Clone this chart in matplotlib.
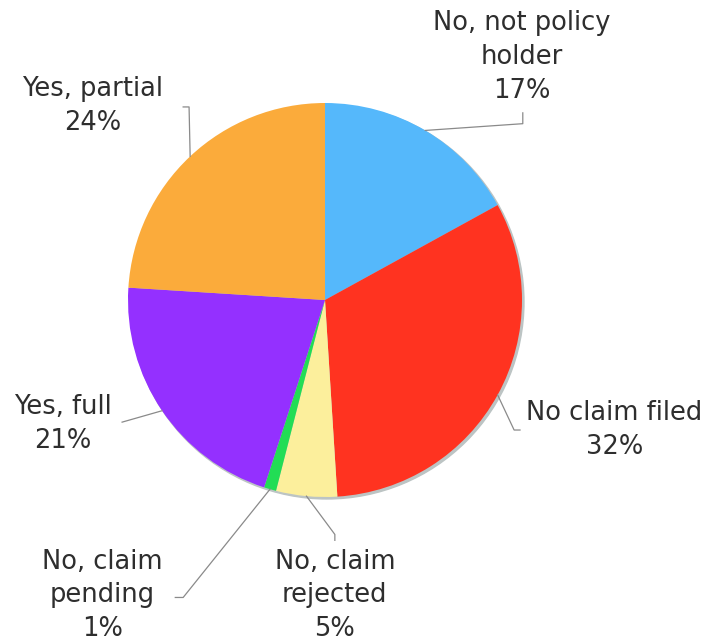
import numpy as np
import matplotlib
matplotlib.use("Agg")
import matplotlib.pyplot as plt
from matplotlib.patches import Circle

# survey answers, clockwise from 12 o'clock
labels = ["No, not policy\nholder", "No claim filed", "No, claim\nrejected",
          "No, claim\npending", "Yes, full", "Yes, partial"]
shares = [17, 32, 5, 1, 21, 24]
colors = ["#55b8fb", "#ff3320", "#fcef9c", "#22dd55", "#9430ff", "#fbab3b"]

# where each label sits and the bend of its leader line (data units, r=1 pie)
text_pos = [(1.0, 1.235), (1.47, -0.66), (0.05, -1.50),
            (-1.13, -1.50), (-1.33, -0.63), (-1.18, 0.985)]
elbows = [[(1.004, 0.895), (1.004, 0.95)],
          [(0.96, -0.66), (0.99, -0.66)],
          [(0.05, -1.19), (0.05, -1.22)],
          [(-0.72, -1.51), (-0.76, -1.51)],
          [(-1.03, -0.62)],
          [(-0.69, 0.98), (-0.72, 0.98)]]

fig = plt.figure(figsize=(7.09, 6.41), dpi=100)
ax = fig.add_axes([0, 0, 1, 1])

# faint drop shadow under the pie
ax.add_patch(Circle((0.010, -0.010), 1.0, color="#bcc4c4", zorder=0))

wedges, _ = ax.pie(shares, colors=colors, startangle=90, counterclock=False,
                   radius=1.0, wedgeprops=dict(linewidth=0))
for w in wedges:
    w.set_zorder(1)

for w, lab, s, (tx, ty), bend in zip(wedges, labels, shares, text_pos, elbows):
    mid = np.deg2rad((w.theta1 + w.theta2) / 2)
    ax_, ay_ = np.cos(mid) * 1.0, np.sin(mid) * 1.0
    xs = [ax_] + [p[0] for p in bend]
    ys = [ay_] + [p[1] for p in bend]
    ax.plot(xs, ys, color="#8a8a8a", lw=0.9, zorder=2)
    ax.text(tx, ty, f"{lab}\n{s}%", ha="center", va="center", fontsize=18.5,
            color="#2e2e2e", linespacing=1.4, family="DejaVu Sans")

ax.set_xlim(-325 / 197, 384 / 197)
ax.set_ylim(-341 / 197, 300 / 197)
ax.set_aspect("equal")
ax.axis("off")

fig.savefig("out.png", dpi=100, facecolor="white")
